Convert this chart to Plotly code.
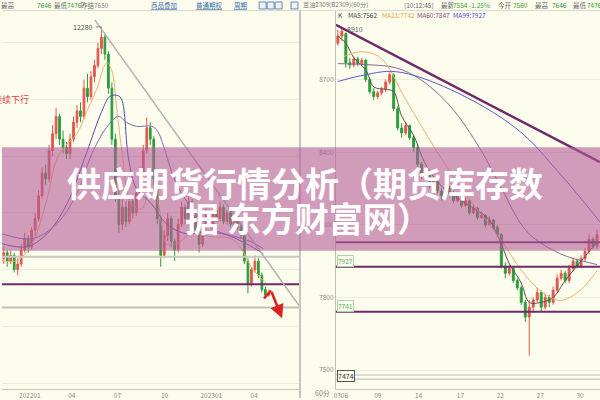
import plotly.graph_objects as go

# ---------------- data: left chart (daily, long range) ----------------
left_open = [8200, 8300, 8150, 8250, 8000, 8100, 8350, 8550, 8400, 8700, 8900, 9300, 9700, 9600, 10100, 10400,
             10700, 10300, 10150, 10050, 10300, 10600, 10800, 10700, 11200, 11050, 11400, 11600, 11900, 12100,
             11800, 11200, 10300, 9300, 8800, 9100, 8850, 9200, 9000, 9350, 9700, 10100, 10500, 10300, 9600,
             8900, 8250, 8600, 8900, 8500, 8350, 8800, 9100, 8900, 9200, 8950, 8700, 8450, 8750, 9000, 8800,
             9050, 8900, 9100, 8850, 9000, 8800, 8950, 8750, 8600, 8150, 7750, 8000, 8150, 7900, 7650, 7550]
left_high = [8400, 8350, 8350, 8300, 8200, 8450, 8650, 8600, 8750, 9000, 9400, 9800, 9850, 10200, 10550, 10850,
             10750, 10450, 10250, 10400, 10700, 10900, 10950, 11350, 11450, 11500, 11700, 12000, 12280, 12150,
             11850, 11300, 10400, 9400, 9250, 9200, 9300, 9300, 9450, 9800, 10200, 10680, 10600, 10350, 9700,
             8950, 8700, 9000, 8950, 8550, 8900, 9200, 9150, 9300, 9250, 9000, 8750, 8800, 9100, 9050, 9150,
             9100, 9200, 9150, 9050, 9050, 9000, 9000, 8800, 8650, 8200, 8050, 8250, 8200, 7950, 7700, 7650]
left_low = [8100, 8050, 8100, 7950, 7900, 8050, 8300, 8300, 8350, 8600, 8850, 9250, 9500, 9550, 10000, 10300,
            10200, 10050, 9950, 9950, 10250, 10500, 10600, 10650, 10950, 11000, 11300, 11550, 11800, 11700,
            11100, 10200, 9200, 8650, 8700, 8750, 8800, 8900, 8950, 9300, 9650, 10050, 10200, 9500, 8800,
            8050, 8200, 8500, 8400, 8150, 8300, 8750, 8800, 8850, 8900, 8650, 8300, 8400, 8700, 8750, 8750,
            8850, 8850, 8800, 8800, 8750, 8750, 8700, 8550, 8100, 7580, 7700, 7950, 7850, 7600, 7500, 7520]
left_close = [8300, 8150, 8250, 8000, 8100, 8350, 8550, 8400, 8700, 8900, 9300, 9700, 9600, 10100, 10400, 10700,
              10300, 10150, 10050, 10300, 10600, 10800, 10700, 11200, 11050, 11400, 11600, 11900, 12100, 11800,
              11200, 10300, 9300, 8800, 9100, 8850, 9200, 9000, 9350, 9700, 10100, 10500, 10300, 9600, 8900,
              8250, 8600, 8900, 8500, 8350, 8800, 9100, 8900, 9200, 8950, 8700, 8450, 8750, 9000, 8800, 9050,
              8900, 9100, 8850, 9000, 8800, 8950, 8750, 8600, 8150, 7750, 8000, 8150, 7900, 7650, 7550, 7600]
left_idx = list(range(len(left_close)))

left_ma_fast_x = [-0.5, 3.8, 8.1, 12.4, 15.2, 18.1, 20.9, 23.8, 26.6, 29.5, 30.9, 32.4, 33.8, 36.6, 39.5, 42.4,
                  44.6, 46.6, 49.5, 53.8, 59.5, 65.2, 68.1, 70.9, 73.8, 75.2]
left_ma_fast = [8159, 8159, 8457, 9246, 9948, 10211, 10386, 10790, 11175, 11649, 11526, 10825, 10123, 9158, 9071,
                9509, 9071, 8457, 8457, 8632, 8580, 8545, 8369, 8053, 7843, 7755]
left_ma_mid_x = [-0.5, 6.6, 12.4, 18.1, 23.8, 28.1, 30.4, 32.6, 33.8, 35.8, 38.1, 42.4, 46.6, 52.4, 58.1, 63.8,
                 69.5, 74.4]
left_ma_mid = [8457, 8404, 8632, 9158, 10071, 10790, 11053, 11070, 11000, 9948, 9422, 9158, 8808, 8632, 8667,
               8615, 8457, 8281]
left_ma_long_x = [-0.5, 8.1, 15.2, 20.9, 25.2, 29.5, 32.9, 35.2, 38.1, 42.4, 44.1, 46.1, 49.5, 55.2, 60.9, 66.6,
                  70.9, 74.4]
left_ma_long = [8632, 8545, 8808, 9334, 10035, 10509, 10702, 10597, 10527, 10527, 10439, 10123, 9509, 8983, 8685,
                8580, 8492, 8369]
left_tick_pos = [7.5, 19.5, 32.6, 46.1, 59.5, 71.8]
left_tick_text = ["202201", "04", "07", "10", "202301", "04"]
left_levels = [8228, 7741, 7333]
left_trend = [(26.1, 12403), (84.6, 7369)]

# ---------------- data: right chart (60 min) ----------------
right_open = [8850, 8880, 8890, 8770, 8760, 8785, 8765, 8780, 8700, 8650, 8630, 8645, 8660, 8690, 8720, 8580,
              8500, 8480, 8510, 8460, 8420, 8350, 8300, 8320, 8260, 8280, 8240, 8220, 8250, 8230, 8200, 8220,
              8180, 8200, 8150, 8170, 8130, 8140, 8100, 8120, 8090, 8060, 7930, 7900, 7920, 7870, 7840, 7780,
              7720, 7760, 7790, 7820, 7760, 7800, 7780, 7830, 7880, 7900, 7870, 7920, 7950, 7930, 7960, 7990,
              8040, 8010]
right_high = [8905, 8910, 8895, 8790, 8795, 8795, 8790, 8785, 8710, 8665, 8655, 8670, 8700, 8730, 8725, 8590,
              8520, 8525, 8515, 8470, 8430, 8360, 8335, 8325, 8295, 8285, 8250, 8265, 8260, 8240, 8235, 8225,
              8215, 8205, 8185, 8175, 8155, 8145, 8135, 8125, 8100, 8065, 7945, 7935, 7925, 7880, 7850, 7790,
              7790, 7800, 7840, 7830, 7815, 7810, 7845, 7895, 7915, 7910, 7935, 7965, 7960, 7975, 8005, 8060,
              8050, 8080]
right_low = [8840, 8860, 8750, 8745, 8750, 8755, 8755, 8690, 8640, 8615, 8620, 8635, 8650, 8680, 8570, 8490,
             8460, 8470, 8450, 8400, 8340, 8290, 8290, 8250, 8245, 8230, 8200, 8210, 8215, 8190, 8195, 8170,
             8175, 8140, 8145, 8120, 8125, 8090, 8095, 8080, 8050, 7920, 7880, 7890, 7860, 7830, 7770, 7700,
             7560, 7740, 7780, 7740, 7750, 7760, 7770, 7820, 7870, 7860, 7860, 7910, 7920, 7920, 7950, 7980,
             8000, 8000]
right_close = [8880, 8900, 8770, 8760, 8785, 8765, 8780, 8700, 8650, 8630, 8645, 8660, 8690, 8720, 8580, 8500,
               8480, 8510, 8460, 8420, 8350, 8300, 8320, 8260, 8280, 8240, 8220, 8250, 8230, 8200, 8220, 8180,
               8200, 8150, 8170, 8130, 8140, 8100, 8120, 8090, 8060, 7930, 7900, 7920, 7870, 7840, 7780, 7720,
               7760, 7790, 7820, 7760, 7800, 7780, 7830, 7880, 7900, 7870, 7920, 7950, 7930, 7960, 7990, 8040,
               8010, 8060]
right_idx = list(range(len(right_close)))

right_ma5_x = [0, 2, 4, 7, 9, 12, 14, 16, 19, 22, 26, 30, 34, 38, 41, 43, 46, 48, 51, 54, 57, 60, 63, 65]
right_ma5 = [8880, 8850, 8790, 8740, 8670, 8660, 8650, 8550, 8470, 8350, 8260, 8210, 8170, 8120, 8020, 7940, 7860,
             7780, 7780, 7800, 7870, 7930, 7990, 8030]
right_ma21_x = [1.5, 5.75, 10.75, 17, 24.5, 32, 40.75, 45.75, 50.75, 55.75, 60.75, 65]
right_ma21 = [8795, 8815, 8790, 8618, 8412, 8227, 8042, 7919, 7829, 7788, 7829, 7911]
right_ma60_x = [0, 7, 14.5, 20.75, 28.25, 35.75, 40.75, 47.5, 55.75, 62, 65]
right_ma60 = [8766, 8762, 8749, 8700, 8589, 8412, 8260, 8071, 7981, 7948, 7936]
right_ma99_x = [0, 5.75, 14.5, 28.25, 45, 55.75, 65.75]
right_ma99 = [8692, 8716, 8733, 8659, 8495, 8310, 8112]
right_tick_pos = [0.75, 10, 20.25, 30.75, 40.75, 50.75, 60.75]
right_tick_text = ["0306", "09", "14", "17", "22", "27", "30"]
right_price_ticks = [7500, 7800, 8100, 8400, 8700]
right_levels = [8028, 7927, 7741]
right_low_level = 7474
right_trend = [(-0.5, 8926), (65.75, 8359)]

# ---------------- figure ----------------
W, H = 600, 400
BG = "#fdfdee"
FONT = "Noto Sans CJK SC"
UP, DOWN = "#e2564c", "#2c9c3c"
PURPLE = "#6e2a66"


def px(x):
    return x / W


def py(y):
    return 1 - y / H


fig = go.Figure()
fig.add_trace(go.Candlestick(x=left_idx, open=left_open, high=left_high, low=left_low, close=left_close,
                             xaxis="x", yaxis="y", whiskerwidth=0,
                             increasing=dict(line=dict(color=UP, width=1), fillcolor=UP),
                             decreasing=dict(line=dict(color=DOWN, width=1), fillcolor=DOWN)))
fig.add_trace(go.Candlestick(x=right_idx, open=right_open, high=right_high, low=right_low, close=right_close,
                             xaxis="x2", yaxis="y2", whiskerwidth=0,
                             increasing=dict(line=dict(color=UP, width=1), fillcolor=UP),
                             decreasing=dict(line=dict(color=DOWN, width=1), fillcolor=DOWN)))

for xs, ys, col, w in [(left_ma_fast_x, left_ma_fast, "#f0b070", 1),
                       (left_ma_mid_x, left_ma_mid, "#4a4ab0", 1),
                       (left_ma_long_x, left_ma_long, "#7a6ab8", 1)]:
    fig.add_trace(go.Scatter(x=xs, y=ys, mode="lines", line=dict(color=col, width=w, shape="spline"),
                             xaxis="x", yaxis="y"))
for xs, ys, col, w in [(right_ma5_x, right_ma5, "#555555", 1),
                       (right_ma21_x, right_ma21, "#f0b070", 1),
                       (right_ma60_x, right_ma60, "#8a6a90", 1),
                       (right_ma99_x, right_ma99, "#5a5ad0", 1)]:
    fig.add_trace(go.Scatter(x=xs, y=ys, mode="lines", line=dict(color=col, width=w, shape="spline"),
                             xaxis="x2", yaxis="y2"))

shapes = []
for lv, col in zip(left_levels, ["#c8c8c0", PURPLE, "#c0c0b8"]):
    shapes.append(dict(type="line", xref="x domain", yref="y", x0=0, x1=1, y0=lv, y1=lv,
                       line=dict(color=col, width=2)))
shapes.append(dict(type="line", xref="x", yref="y", x0=left_trend[0][0], y0=left_trend[0][1],
                   x1=left_trend[1][0], y1=left_trend[1][1], line=dict(color="#b0b0b0", width=1.5)))
for lv in right_levels:
    shapes.append(dict(type="line", xref="x2 domain", yref="y2", x0=0, x1=1, y0=lv, y1=lv,
                       line=dict(color=PURPLE, width=2)))
for lv in [right_low_level + 6, right_low_level - 12]:
    shapes.append(dict(type="line", xref="x2 domain", yref="y2", x0=0, x1=1, y0=lv, y1=lv,
                       line=dict(color="#d0d0c8", width=1.5)))
shapes.append(dict(type="line", xref="x2", yref="y2", x0=right_trend[0][0], y0=right_trend[0][1],
                   x1=right_trend[1][0], y1=right_trend[1][1], line=dict(color=PURPLE, width=2.5)))
shapes.append(dict(type="line", xref="x", yref="y", x0=74.6, y0=7492, x1=76.6, y1=7633,
                   line=dict(color="#e02020", width=2.5)))
shapes.append(dict(type="line", xref="paper", yref="paper", x0=0, x1=1, y0=py(10.5), y1=py(10.5),
                   line=dict(color="#d8d8d0", width=1)))
shapes.append(dict(type="line", xref="paper", yref="paper", x0=px(299), x1=px(299), y0=0, y1=py(10.5),
                   line=dict(color="#c4c4c0", width=2)))
for x0 in [258, 266, 274, 290]:
    shapes.append(dict(type="rect", xref="paper", yref="paper", x0=px(x0), x1=px(x0 + 7), y0=py(9), y1=py(2),
                       line=dict(color="#6a8ab8", width=1), fillcolor="#eef2f8"))
shapes.append(dict(type="rect", xref="paper", yref="paper", x0=0, x1=1, y0=py(252), y1=py(148),
                   fillcolor="rgba(178,92,152,0.6)", line=dict(width=0), layer="above"))

ann = []


def note(text, x, y, size=6.5, color="#666666", xanchor="left", **kw):
    d = dict(text=text, xref="paper", yref="paper", x=px(x), y=py(y), xanchor=xanchor, yanchor="middle",
             showarrow=False, font=dict(family=FONT, size=size, color=color))
    d.update(kw)
    ann.append(d)


G = "#3a9a3a"
LINK = "#3a6ea8"
note("最高", -3, 5)
note("7646", 33, 5, color=G)
note("最低", 50, 5)
note("7476", 63, 5, color=G)
note("昨结", 77, 5)
note("7650", 90, 5, color="#888888")
note("<u>商品叠加</u>", 162.5, 5, color=LINK, xanchor="center")
note("<u>普通期权</u>", 208.5, 5, color=LINK, xanchor="center")
note("<u>周期</u>", 240, 5, color=LINK, xanchor="center")
note("豆油2309(B2309)(60分)", 300, 5, size=6.2, color="#777777")
note("[10:12:45]", 401, 5)
note("最新", 438, 5)
note("7554", 451, 5, color=G)
note("-1.25%", 467, 5, color=G)
note("今开", 496, 5)
note("7560", 511, 5, color=G)
note("最高", 533, 5)
note("7646", 550, 5, color=G)
note("最低", 571, 5)
note("7476", 585, 5, color=G)
note("K", 335, 15, color="#444444")
note("MA5:7562", 345, 15, color="#444444")
note("MA21:7742", 379, 15, color="#e8a040")
note("MA60:7847", 414, 15, color="#7a4a7a")
note("MA99:7927", 450, 15, color="#4a4ad0")
note("60分", 322, 395, size=7, color="#888888", xanchor="center")
note("继续下行", 29, 100, size=9, color="#e04040", xanchor="right")

ann.append(dict(text="12280", xref="x", yref="y", x=28, y=12280, xanchor="right", yanchor="middle",
                xshift=-6, showarrow=False, font=dict(family=FONT, size=7, color="#555555")))
shapes.append(dict(type="line", xref="x", yref="y", x0=26.4, x1=28, y0=12280, y1=12280,
                   line=dict(color="#888888", width=1)))
ann.append(dict(text="8910", xref="x2", yref="y2", x=1, y=8910, xanchor="left", yanchor="middle",
                xshift=3, showarrow=False, font=dict(family=FONT, size=7, color="#555555")))
for lv, txt in [(7927, "7927"), (7741, "7741")]:
    ann.append(dict(text=txt, xref="x2 domain", yref="y2", x=0.004, y=lv, xanchor="left", yanchor="bottom",
                    showarrow=False, bordercolor="#a8d8a8", borderwidth=1, borderpad=0, bgcolor=BG,
                    font=dict(family=FONT, size=6.5, color="#58a858")))
ann.append(dict(text="7474", xref="x2 domain", yref="y2", x=0.004, y=right_low_level, xanchor="left",
                yanchor="middle", showarrow=False, bordercolor="#555555", borderwidth=1, borderpad=0, bgcolor=BG,
                font=dict(family=FONT, size=7, color="#333333")))
ann.append(dict(x=79.8, y=7141, ax=76.6, ay=7633, xref="x", yref="y", axref="x", ayref="y", text="",
                showarrow=True, arrowhead=2, arrowsize=1.1, arrowwidth=2.5, arrowcolor="#e02020"))
note("<b>供应期货行情分析（期货库存数</b>", 304, 183, size=34, color="white", xanchor="center")
note("<b>据 东方财富网）</b>", 307, 219, size=34, color="white", xanchor="center")

ytop, ybot = py(11), py(391)
axis_font = dict(family=FONT, size=6.5, color="#888888")
fig.update_layout(
    width=W, height=H, margin=dict(l=0, r=0, t=0, b=0),
    paper_bgcolor=BG, plot_bgcolor=BG, showlegend=False, hovermode=False,
    shapes=shapes, annotations=ann,
    xaxis=dict(domain=[0, px(298)], range=[-0.5, 84.64], rangeslider=dict(visible=False), showgrid=False,
               zeroline=False, tickmode="array", tickvals=left_tick_pos, ticktext=left_tick_text,
               tickfont=axis_font, ticks="", showline=True, linecolor="#c8c8c0", anchor="y"),
    yaxis=dict(domain=[ybot, ytop], range=[5895, 12561], showticklabels=False, tickmode="array",
               tickvals=[6000, 7000, 8000, 9000, 10000, 11000, 12000], gridcolor="#ececdc", gridwidth=1,
               zeroline=False, anchor="x"),
    xaxis2=dict(domain=[px(335), 1], range=[-0.5, 65.75], rangeslider=dict(visible=False), showgrid=False,
                zeroline=False, tickmode="array", tickvals=right_tick_pos, ticktext=right_tick_text,
                tickfont=axis_font, ticks="", showline=True, linecolor="#c8c8c0", anchor="y2"),
    yaxis2=dict(domain=[ybot, ytop], range=[7421.9, 8983.6], tickmode="array", tickvals=right_price_ticks,
                tickfont=axis_font, gridcolor="#ececdc", zeroline=False, showline=True, linecolor="#c0c0b8",
                ticks="", anchor="x2"),
)

fig.write_html("out.html", config={"displayModeBar": False},
               post_script="document.body.style.margin='0';document.body.style.overflow='hidden';")
